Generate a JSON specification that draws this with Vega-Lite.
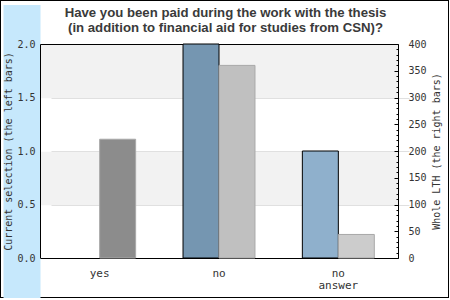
{
  "$schema": "https://vega.github.io/schema/vega-lite/v6.json",
  "width": 449,
  "height": 298,
  "autosize": "none",
  "padding": 0,
  "background": "white",
  "title": {
    "text": ["Have you been paid during the work with the thesis", "(in addition to financial aid for studies from CSN)?"],
    "font": "Liberation Sans",
    "fontSize": 13.2,
    "fontWeight": "bold",
    "color": "#3a3a3a",
    "lineHeight": 15,
    "offset": -35,
    "dx": 1,
    "anchor": "middle"
  },
  "config": {
    "view": {"stroke": "black", "strokeWidth": 2},
    "axis": {
      "labelFont": "DejaVu Sans Mono",
      "titleFont": "DejaVu Sans Mono",
      "labelColor": "#333",
      "titleColor": "#333",
      "labelFontSize": 10,
      "titleFontSize": 10,
      "titleFontWeight": "normal"
    }
  },
  "data": {
    "values": [
      {"cat": "yes", "side": "current", "value": 0},
      {"cat": "no", "side": "current", "value": 2},
      {"cat": "no answer", "side": "current", "value": 1},
      {"cat": "yes", "side": "whole", "value": 222},
      {"cat": "no", "side": "whole", "value": 360},
      {"cat": "no answer", "side": "whole", "value": 44}
    ]
  },
  "encoding": {
    "x": {
      "field": "cat",
      "type": "nominal",
      "sort": ["yes", "no", "no answer"],
      "scale": {"range": [40, 398], "paddingInner": 0.397, "paddingOuter": 0.1985},
      "axis": {
        "title": null,
        "offset": -40,
        "domain": true,
        "domainColor": "black",
        "ticks": false,
        "labelAngle": 0,
        "labelFontSize": 11,
        "labelPadding": 9,
        "labelLineHeight": 12,
        "labelExpr": "datum.value == 'no answer' ? ['no', 'answer'] : datum.label"
      }
    },
    "xOffset": {
      "field": "side",
      "type": "nominal",
      "scale": {"domain": ["current", "whole"], "paddingInner": 0, "paddingOuter": 0}
    }
  },
  "layer": [
    {
      "transform": [{"filter": "datum.side == 'current'"}],
      "mark": {"type": "bar", "stroke": "black", "strokeWidth": 1},
      "encoding": {
        "y": {
          "field": "value",
          "type": "quantitative",
          "scale": {"domain": [0, 2], "nice": false, "range": [258, 44]},
          "axis": {
            "orient": "left",
            "offset": -40,
            "title": "Current selection (the left bars)",
            "titleX": -32,
            "titleY": 151,
            "titleAngle": 270,
            "titleAlign": "center",
            "titleBaseline": "middle",
            "values": [0, 0.5, 0.75, 1, 1.5, 1.75, 2],
            "labelExpr": "datum.value == 0.75 || datum.value == 1.75 ? '' : format(datum.value, '.1f')",
            "domain": true,
            "domainColor": "black",
            "ticks": true,
            "tickSize": {"condition": {"test": "datum.value == 2", "value": -358}, "value": 37},
            "tickColor": {"condition": {"test": "datum.value == 2", "value": "black"}, "value": "#c6e8fc"},
            "tickOpacity": {"condition": {"test": "datum.value == 1 || datum.value == 2", "value": 1}, "value": 0},
            "tickCap": "butt",
            "tickWidth": {"condition": {"test": "datum.value == 1", "value": 293}, "value": 1},
            "labelPadding": {"condition": {"test": "datum.value == 2", "value": 363}, "value": -32},
            "grid": true,
            "gridColor": "#f2f2f2",
            "gridWidth": {"condition": {"test": "datum.value == 0.75 || datum.value == 1.75", "value": 53.5}, "value": 0}
          }
        },
        "color": {
          "field": "cat",
          "type": "nominal",
          "scale": {"domain": ["yes", "no", "no answer"], "range": ["#7596b1", "#7596b1", "#8fb0cc"]},
          "legend": null
        },
        "strokeOpacity": {"condition": {"test": "datum.value == 0", "value": 0}, "value": 1}
      }
    },
    {
      "transform": [{"filter": "datum.side == 'whole'"}],
      "mark": {"type": "bar", "stroke": "#a8a8a8", "strokeWidth": 1},
      "encoding": {
        "y": {
          "field": "value",
          "type": "quantitative",
          "scale": {"domain": [0, 400], "nice": false, "range": [258, 44]},
          "axis": {
            "orient": "right",
            "offset": -51,
            "title": "Whole LTH (the right bars)",
            "titleAngle": 270,
            "titlePadding": 15,
            "values": [0,10,20,30,40,50,60,70,80,90,100,110,120,130,140,150,160,170,180,190,200,210,220,230,240,250,260,270,280,290,300,310,320,330,340,350,360,370,380,390,400],
            "labelExpr": "datum.value % 50 == 0 ? datum.label : ''",
            "domainColor": "black",
            "tickColor": "black",
            "tickSize": {"condition": {"test": "datum.value % 50 == 0", "value": -4}, "value": -2},
            "labelPadding": 14,
            "grid": true,
            "gridColor": "#e0e0e0",
            "gridOpacity": {"condition": {"test": "datum.value == 100 || datum.value == 200 || datum.value == 300", "value": 1}, "value": 0}
          }
        },
        "color": {
          "field": "cat",
          "type": "nominal",
          "scale": {"domain": ["yes", "no", "no answer"], "range": ["#8c8c8c", "#c0c0c0", "#cccccc"]},
          "legend": null
        }
      }
    }
  ],
  "resolve": {"scale": {"y": "independent", "color": "independent"}}
}
